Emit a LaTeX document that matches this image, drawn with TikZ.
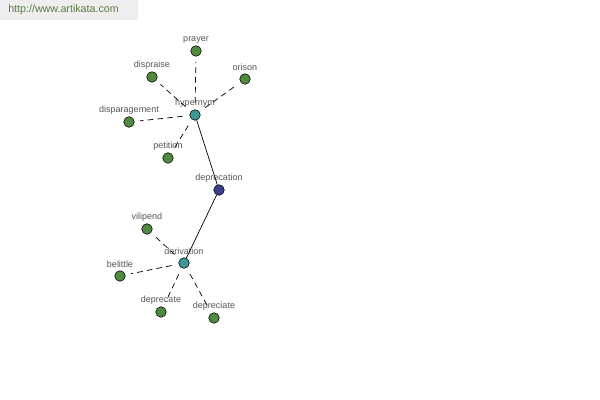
\documentclass[tikz,border=0pt]{standalone}
\usepackage{fontspec}
\setmainfont{Liberation Sans}
\definecolor{leafgreen}{HTML}{4F8A3F}
\definecolor{hubteal}{HTML}{3E9696}
\definecolor{rootblue}{HTML}{3B3F8C}
\definecolor{labelgray}{HTML}{555555}
\definecolor{bannergray}{HTML}{EEEEEE}
\definecolor{bannertext}{HTML}{5E7A45}

\begin{document}
\begin{tikzpicture}[x=0.025cm,y=-0.025cm,
  word/.style={circle,draw=black,line width=0.4pt,inner sep=0pt,minimum size=7.5pt,
    label={[labelgray,font=\fontsize{6.4}{6.4}\selectfont,inner sep=0pt,label distance=1.6pt]above:#1}},
  leafnode/.style={word=#1,fill=leafgreen},
  hubnode/.style={word=#1,fill=hubteal},
  rootnode/.style={word=#1,fill=rootblue},
  rel/.style={line width=0.5pt,dash pattern=on 4pt off 3pt,shorten <=5pt,shorten >=4pt},
  link/.style={line width=0.5pt}]
\useasboundingbox (0,0) rectangle (600,400);
\fill[bannergray] (0,0) rectangle (138,20);
\node[bannertext,font=\fontsize{7.6}{7.6}\selectfont,anchor=west,inner sep=0pt] (site) at (8,10) {http://www.artikata.com};

% nodes
\node[hubnode=hypernym] (hypernym) at (195,115) {};
\node[rootnode=deprecation] (deprecation) at (219,190) {};
\node[hubnode=derivation] (derivation) at (184,263) {};
\node[leafnode=prayer] (prayer) at (196,51) {};
\node[leafnode=dispraise] (dispraise) at (152,77) {};
\node[leafnode=orison] (orison) at (245,79) {};
\node[leafnode=disparagement] (disparagement) at (129,122) {};
\node[leafnode=petition] (petition) at (168,158) {};
\node[leafnode=vilipend] (vilipend) at (147,229) {};
\node[leafnode=belittle] (belittle) at (120,276) {};
\node[leafnode=deprecate] (deprecate) at (161,312) {};
\node[leafnode=depreciate] (depreciate) at (214,318) {};

% edges
\draw[link] (hypernym) -- (deprecation) -- (derivation);
\foreach \w in {prayer,dispraise,orison,disparagement,petition}
  \draw[rel] (hypernym) -- (\w);
\foreach \w in {vilipend,belittle,deprecate,depreciate}
  \draw[rel] (derivation) -- (\w);
\end{tikzpicture}
\end{document}
